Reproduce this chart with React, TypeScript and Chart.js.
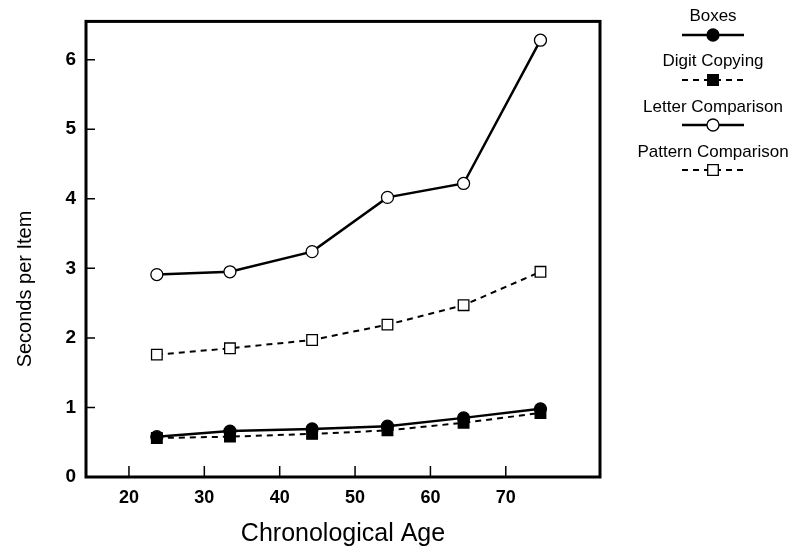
import React, { useEffect, useRef } from "react";
import { Chart, registerables } from "chart.js";

Chart.register(...registerables);

// ---- data ----
const ages = [23.7, 33.4, 44.3, 54.3, 64.4, 74.6];
const boxes = [0.58, 0.66, 0.69, 0.73, 0.85, 0.98];
const digitCopying = [0.56, 0.58, 0.62, 0.67, 0.78, 0.92];
const letterComparison = [2.91, 2.95, 3.24, 4.02, 4.22, 6.28];
const patternComparison = [1.76, 1.85, 1.97, 2.19, 2.47, 2.95];
const seriesNames = ["Boxes", "Digit Copying", "Letter Comparison", "Pattern Comparison"];
const xTickValues = [20, 30, 40, 50, 60, 70];
const yTickValues = [0, 1, 2, 3, 4, 5, 6];
const xTitle = "Chronological Age";
const yTitle = "Seconds per Item";

const FONT = "'Liberation Sans', Arial, Helvetica, sans-serif";

const toPoints = (ys: number[]) => ys.map((y, i) => ({ x: ages[i], y }));

const framePlugin = {
  id: "frameAndInnerTicks",
  afterDraw(chart: any) {
    const { ctx, chartArea, scales } = chart;
    ctx.save();
    ctx.strokeStyle = "#000";
    ctx.lineWidth = 3;
    ctx.strokeRect(chartArea.left, chartArea.top, chartArea.right - chartArea.left, chartArea.bottom - chartArea.top);
    ctx.lineWidth = 1.5;
    ctx.beginPath();
    for (const v of yTickValues) {
      const y = scales.y.getPixelForValue(v);
      ctx.moveTo(chartArea.left, y);
      ctx.lineTo(chartArea.left + 9, y);
    }
    for (const v of xTickValues) {
      const x = scales.x.getPixelForValue(v);
      ctx.moveTo(x, chartArea.bottom);
      ctx.lineTo(x, chartArea.bottom - 11);
    }
    ctx.stroke();
    // y axis title (placed slightly below the plot's centre, as in the reference)
    ctx.translate(25, 289);
    ctx.rotate(-Math.PI / 2);
    ctx.fillStyle = "#000";
    ctx.font = `20px ${FONT}`;
    ctx.textAlign = "center";
    ctx.textBaseline = "middle";
    ctx.fillText(yTitle, 0, 0);
    ctx.restore();
  },
};

const legendPlugin = {
  id: "stackedLegend",
  afterDraw(chart: any) {
    const { ctx } = chart;
    const cx = 713;
    ctx.save();
    chart.data.datasets.forEach((ds: any, i: number) => {
      const ty = 16 + i * 45.5;
      const sy = 35 + i * 45;
      ctx.fillStyle = "#000";
      ctx.font = `17px ${FONT}`;
      ctx.textAlign = "center";
      ctx.textBaseline = "middle";
      ctx.fillText(ds.label, cx, ty);
      ctx.strokeStyle = "#000";
      ctx.lineWidth = ds.borderWidth;
      ctx.setLineDash(ds.borderDash || []);
      ctx.beginPath();
      ctx.moveTo(cx - 31, sy);
      ctx.lineTo(cx + 31, sy);
      ctx.stroke();
      ctx.setLineDash([]);
      ctx.lineWidth = 1.3;
      ctx.fillStyle = ds.pointBackgroundColor;
      ctx.beginPath();
      if (ds.pointStyle === "rect") {
        const s = ds.pointRadius * Math.SQRT1_2;
        ctx.rect(cx - s, sy - s, 2 * s, 2 * s);
      } else {
        ctx.arc(cx, sy, ds.pointRadius, 0, Math.PI * 2);
      }
      ctx.fill();
      ctx.stroke();
    });
    ctx.restore();
  },
};

export default function App() {
  const ref = useRef<HTMLCanvasElement | null>(null);

  useEffect(() => {
    if (!ref.current) return;
    const mk = (label: string, data: number[], dashed: boolean, style: string, fill: string, r: number) => ({
      label,
      data: toPoints(data),
      borderColor: "#000",
      borderWidth: dashed ? 2 : 2.5,
      borderDash: dashed ? [6, 5] : [],
      pointStyle: style,
      pointRadius: r,
      pointBackgroundColor: fill,
      pointBorderColor: "#000",
      pointBorderWidth: 1.3,
      tension: 0,
      fill: false,
    });
    const chart = new Chart(ref.current, {
      type: "line",
      data: {
        datasets: [
          mk(seriesNames[0], boxes, false, "circle", "#000", 6),
          mk(seriesNames[1], digitCopying, true, "rect", "#000", 7.5),
          mk(seriesNames[2], letterComparison, false, "circle", "#fff", 6),
          mk(seriesNames[3], patternComparison, true, "rect", "#fff", 7.5),
        ] as any,
      },
      options: {
        animation: false,
        responsive: false,
        events: [],
        layout: { padding: { top: 17, right: 198, left: 0, bottom: 0 } },
        plugins: { legend: { display: false }, tooltip: { enabled: false }, title: { display: false } },
        scales: {
          x: {
            type: "linear",
            min: 14.3,
            max: 82.5,
            afterBuildTicks: (s: any) => { s.ticks = xTickValues.map((v) => ({ value: v })); },
            afterFit: (s: any) => { s.height = 76; },
            grid: { display: false, drawTicks: false },
            border: { display: false },
            ticks: { color: "#000", padding: 10, font: { family: FONT, size: 18, weight: "bold" } },
            title: { display: true, text: xTitle, color: "#000", padding: { top: 0, bottom: 4 }, font: { family: FONT, size: 25 } },
          },
          y: {
            type: "linear",
            min: 0,
            max: 6.55,
            afterBuildTicks: (s: any) => { s.ticks = yTickValues.map((v) => ({ value: v })); },
            afterFit: (s: any) => { s.width = 86; },
            grid: { display: false, drawTicks: false },
            border: { display: false },
            ticks: { color: "#000", padding: 10, font: { family: FONT, size: 19, weight: "bold" } },
            title: { display: false, text: yTitle },
          },
        },
      } as any,
      plugins: [framePlugin, legendPlugin],
    });
    return () => chart.destroy();
  }, []);

  return (
    <div style={{ position: "fixed", left: 0, top: 0, width: 798, height: 553, background: "#fff" }}>
      <canvas ref={ref} width={798} height={553} style={{ display: "block" }} />
    </div>
  );
}
